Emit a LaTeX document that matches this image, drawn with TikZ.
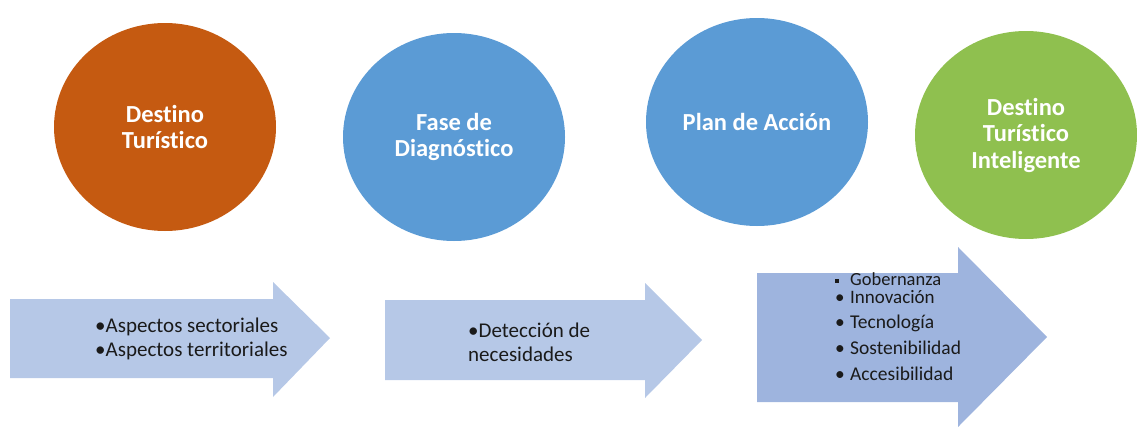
\documentclass[tikz,border=0pt]{standalone}
\usepackage{fontspec}
\setmainfont[Ligatures=NoCommon]{Carlito}
\usetikzlibrary{shapes.geometric}
\definecolor{orangeC}{HTML}{C55A11}
\definecolor{blueC}{HTML}{5B9BD5}
\definecolor{greenC}{HTML}{8FC04F}
\definecolor{arrowA}{HTML}{B6C8E7}
\definecolor{arrowB}{HTML}{9EB4DE}
\definecolor{txt}{HTML}{1A1A1A}
\newcommand{\sqbul}{\makebox[15pt][l]{\raisebox{2.5pt}{\rule{4pt}{4pt}}}}
\newcommand{\rdbul}{\makebox[15pt][l]{•}}
\begin{document}
\begin{tikzpicture}[x=1pt,y=-1pt,
  phase/.style={ellipse, minimum width=222pt, minimum height=208pt, inner sep=0pt,
    text=white, align=center, font=\fontsize{24.5}{26.5}\selectfont\bfseries},
  bullettext/.style={anchor=west, align=left, text=txt, inner sep=0pt,
    font=\fontsize{21}{24}\selectfont},
  itemline/.style={anchor=base west, text=txt, inner sep=0pt,
    font=\fontsize{19.5}{24}\selectfont}]
\useasboundingbox (0,0) rectangle (1137,426);

% phase circles
\node[phase, fill=orangeC] (c1) at (165,127) {Destino\\Turístico};
\node[phase, fill=blueC]   (c2) at (454,137) {Fase de\\Diagnóstico};
\node[phase, fill=blueC]   (c3) at (757,122) {Plan de Acción};
\node[phase, fill=greenC]  (c4) at (1026,135) {Destino\\Turístico\\Inteligente};

% block arrows
\fill[arrowA] (10,299) -- (273,299) -- (273,282) -- (330,338) -- (273,397) -- (273,378) -- (10,378) -- cycle;
\fill[arrowA] (385,300) -- (645,300) -- (645,283) -- (702,340) -- (645,398) -- (645,380) -- (385,380) -- cycle;
\fill[arrowB] (757,273) -- (958,273) -- (958,247) -- (1047,337) -- (958,427) -- (958,402) -- (757,402) -- cycle;

% arrow texts
\node[bullettext] (t1) at (95,339) {•Aspectos sectoriales\\•Aspectos territoriales};
\node[bullettext] (t2) at (468,342) {•Detección de\\necesidades};

\node[itemline, font=\fontsize{18.5}{22}\selectfont] (g1) at (835,285) {\sqbul Gobernanza};
\node[itemline, font=\fontsize{19}{22}\selectfont] (g2) at (835,303) {\rdbul Innovación};
\node[itemline] (g3) at (835,328) {\rdbul Tecnología};
\node[itemline] (g4) at (835,354) {\rdbul Sostenibilidad};
\node[itemline] (g5) at (835,380) {\rdbul Accesibilidad};
\end{tikzpicture}
\end{document}
